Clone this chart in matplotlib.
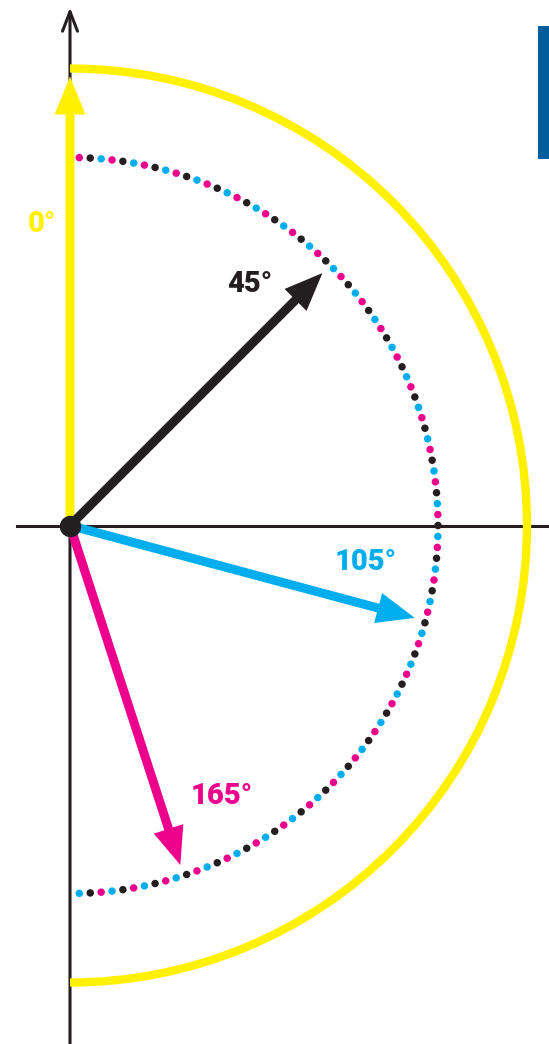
import matplotlib.pyplot as plt
import numpy as np
from matplotlib.patches import Arc, FancyArrow

# 向量方向（从竖直向上顺时针量，度）与标注
vec_angles = [0, 45, 105, 162]
vec_lengths = [449, 357, 357, 357]
vec_labels = ['0°', '45°', '105°', '165°']
vec_colors = ['#FFF100', '#231F20', '#00AEEF', '#EC008C']
label_pos = [(-28, 302), (180, 241), (296, -37), (152, -270)]

# 虚线圆上的点
dot_radius = 368
dot_count = 105
dot_start, dot_end = 1.45, 178.55
dot_cycle = ['#EC008C', '#231F20', '#00AEEF']

big_radius = 457

fig = plt.figure(figsize=(5.49, 10.44), dpi=100)
ax = fig.add_axes([0, 0, 1, 1])
ax.set_xlim(-70, 479)
ax.set_ylim(-518.5, 525.5)
ax.axis('off')

# 坐标轴
ax.plot([-53, 479], [0, 0], color='#231F20', lw=2.2, zorder=1)
ax.annotate('', xy=(0, 518), xytext=(0, -520),
            arrowprops=dict(arrowstyle='->,head_length=0.7,head_width=0.27',
                            color='#231F20', lw=2.2, mutation_scale=20,
                            shrinkA=0, shrinkB=0), zorder=1)

# 外侧黄色半圆
ax.add_patch(Arc((0, 0), 2 * big_radius, 2 * big_radius, theta1=-90, theta2=90,
                 color='#FFF100', lw=6, zorder=2))

# 彩色点组成的圆弧
t = np.radians(np.linspace(dot_start, dot_end, dot_count))
dx = dot_radius * np.sin(t)
dy = dot_radius * np.cos(t)
dc = [dot_cycle[i % 3] for i in range(dot_count)]
ax.scatter(dx, dy, s=29, c=dc, linewidths=0, zorder=3)

# 向量
for a, L, lab, c, (lx, ly) in zip(vec_angles, vec_lengths, vec_labels, vec_colors, label_pos):
    r = np.radians(a)
    ax.add_patch(FancyArrow(0, 0, L * np.sin(r), L * np.cos(r), width=9,
                            head_width=31, head_length=38, length_includes_head=True,
                            color=c, lw=0, zorder=4))
    ax.text(lx, ly, lab, color=c, fontsize=21, fontweight='heavy',
            family=['Roboto', 'DejaVu Sans'], ha='center', va='center', zorder=5)

# 原点
ax.plot(0, 0, 'o', color='#231F20', ms=14.4, zorder=6)

# 右上角蓝色条
ax.add_patch(plt.Rectangle((468, 366.5), 11, 133, color='#035C9C', lw=0, zorder=1))

fig.savefig('out.png', dpi=100)
